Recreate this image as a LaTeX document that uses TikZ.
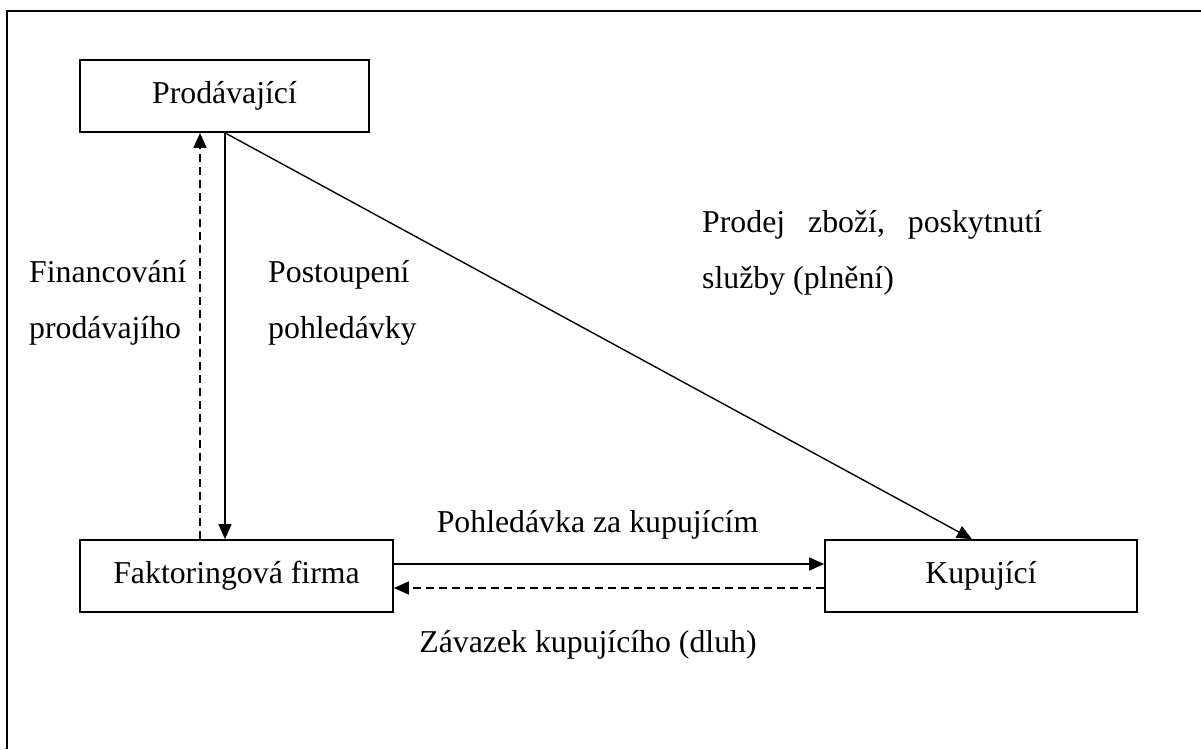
\documentclass[tikz,border=0pt]{standalone}
\usepackage{fontspec}
\setmainfont{Liberation Serif}
\usetikzlibrary{arrows.meta}
\begin{document}
\begin{tikzpicture}[x=1pt,y=-1pt,
  txt/.style={font=\fontsize{31.8}{56}\selectfont},
  party/.style={draw,line width=1.7pt,rectangle,minimum height=72pt,inner sep=0pt,txt},
  lbl/.style={inner sep=0pt,align=left,txt,anchor=base west},
  flow/.style={line width=1.4pt,-{Triangle[length=15pt,width=13pt]}},
  back/.style={flow,dash pattern=on 8pt off 5pt}]
  \useasboundingbox (0,0) rectangle (1201,749);
  % outer frame (top and left edges)
  \draw[line width=2pt] (7,749) -- (7,11) -- (1201,11);

  % parties
  \node[party,minimum width=289pt] (prod) at (224.5,96) {Prodávající};
  \node[party,minimum width=313pt] (fakt) at (236.5,576) {Faktoringová firma};
  \node[party,minimum width=312pt] (kup)  at (981,576) {Kupující};

  % attachment columns / rows
  \coordinate (cs) at (225,0);
  \coordinate (cd) at (200,0);
  \coordinate (ck) at (972,0);
  \coordinate (rs) at (0,564);
  \coordinate (rd) at (0,588);

  % flows
  \draw[flow] (prod.south -| cs) -- (fakt.north -| cs);
  \draw[back] (fakt.north -| cd) -- (prod.south -| cd);
  \draw[flow] (prod.south -| cs) -- (kup.north -| ck);
  \draw[flow] (fakt.east |- rs) -- (kup.west |- rs);
  \draw[back] (kup.west |- rd) -- (fakt.east |- rd);

  % labels
  \node[lbl] (lfin) at (29,338) {Financování\\prodávajího};
  \node[lbl] (lpos) at (268,338) {Postoupení\\pohledávky};
  \node[lbl] (lpro) at (702,288) {\makebox[340pt][s]{Prodej\hfill zboží,\hfill poskytnutí}\\služby (plnění)};
  \node[lbl,anchor=base] (lpoh) at (597.5,532) {Pohledávka za kupujícím};
  \node[lbl,anchor=base] (lzav) at (588,652) {Závazek kupujícího (dluh)};
\end{tikzpicture}
\end{document}
